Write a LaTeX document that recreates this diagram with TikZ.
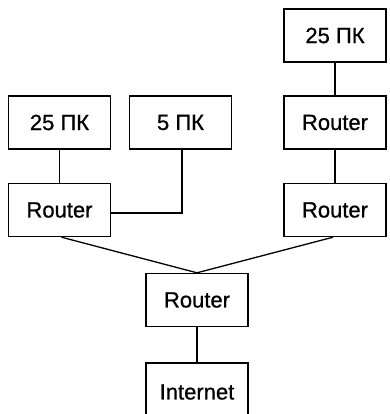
\documentclass[tikz,border=0pt]{standalone}
\usepackage{fontspec}
\setmainfont{Liberation Sans}
\newfontfamily\boxfont{Liberation Sans}[FakeBold=0.8]
\begin{document}
\begin{tikzpicture}[x=1pt,y=1pt,
  box/.style={draw, line width=1.4pt, minimum width=102pt, minimum height=53pt, inner sep=0pt, font=\boxfont\fontsize{22}{26}\selectfont},
  link/.style={line width=1.3pt}]
\useasboundingbox (0,0) rectangle (389,-414);
\begin{scope}
\clip (0,0) rectangle (389,-414);
\node[box] (tr) at (335,-35.5) {25 ПК};
\node[box] (l25) at (59.5,-122.5) {25 ПК};
\node[box] (p5) at (180.5,-122.5) {5 ПК};
\node[box] (rr1) at (335,-122.5) {Router};
\node[box] (lr) at (59.5,-210) {Router};
\node[box] (rr2) at (335,-210) {Router};
\node[box] (cr) at (197,-300) {Router};
\node[box, minimum height=58pt] (inet) at (197,-392) {Internet};
\draw[link] (tr) -- (rr1);
\draw[link] (rr1) -- (rr2);
\draw[link] (l25) -- (lr);
\draw[link] ([xshift=1.5pt]p5.south) |- ([yshift=-3pt]lr.east);
\draw[link] ([xshift=2pt]lr.south) -- (cr.north);
\draw[link] ([xshift=-2pt]rr2.south) -- (cr.north);
\draw[link] (cr) -- (inet);
\end{scope}
\end{tikzpicture}
\end{document}
